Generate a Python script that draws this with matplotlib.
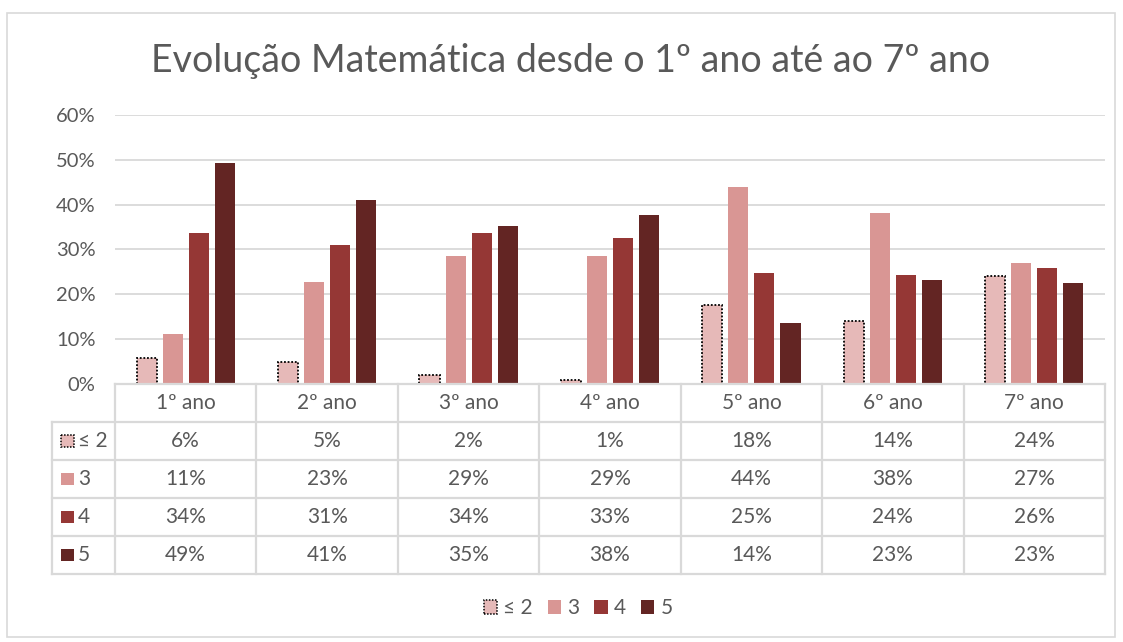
import matplotlib
matplotlib.use('Agg')
import matplotlib.pyplot as plt
from matplotlib.patches import Rectangle, Patch

plt.rcParams['font.family'] = ['Lato', 'DejaVu Sans']

# dados
anos = ['1º ano', '2º ano', '3º ano', '4º ano', '5º ano', '6º ano', '7º ano']
series = ['≤ 2', '3', '4', '5']
v_le2 = [5.8, 4.8, 2.0, 0.9, 17.6, 14.1, 24.2]
v_3 = [11.2, 22.7, 28.6, 28.6, 43.9, 38.1, 26.9]
v_4 = [33.7, 30.9, 33.7, 32.6, 24.8, 24.3, 25.8]
v_5 = [49.2, 41.1, 35.3, 37.6, 13.6, 23.2, 22.6]
valores = [v_le2, v_3, v_4, v_5]

cores = ['#E6B9B8', '#D99694', '#953735', '#632523']
cinza = '#595959'
linha = '#D9D9D9'
fs = 15

W, H = 1123, 642
fig = plt.figure(figsize=(W / 100, H / 100), dpi=100)

def fx(px):
    return px / W

def fy(py):
    return 1 - py / H

# moldura do gráfico
fig.patches.append(Rectangle((fx(7), fy(637)), fx(1115) - fx(7), fy(13) - fy(637),
                             transform=fig.transFigure, fill=False, ec=linha, lw=1.2))

fig.text(fx(571), fy(61), 'Evolução Matemática desde o 1º ano até ao 7º ano',
         ha='center', va='center', fontsize=27, color=cinza)

# área das barras
ax = fig.add_axes([fx(115), fy(384), fx(1105) - fx(115), fy(115) - fy(384)])
largura = 0.142
passo = 0.184
x = range(len(anos))
for i, (s, v) in enumerate(zip(series, valores)):
    off = (i - 1.5) * passo
    xs = [k + off for k in x]
    if i == 0:
        ax.bar(xs, [a / 100 for a in v], width=largura, color=cores[i],
               edgecolor='black', linestyle=(0, (1, 1)), linewidth=1.3, zorder=3)
    else:
        ax.bar(xs, [a / 100 for a in v], width=largura, color=cores[i], zorder=3)

ax.set_xlim(-0.5, 6.5)
ax.set_ylim(0, 0.6)
ax.set_yticks([0, 0.1, 0.2, 0.3, 0.4, 0.5, 0.6])
ax.set_yticklabels(['0%', '10%', '20%', '30%', '40%', '50%', '60%'], fontsize=14.5, color=cinza)
ax.tick_params(axis='y', length=0, pad=14)
ax.set_xticks([])
ax.grid(axis='y', color=linha, lw=1.3, zorder=0)
for sp in ax.spines.values():
    sp.set_visible(False)

# tabela de dados
tab = fig.add_axes([fx(115), fy(574), fx(1105) - fx(115), fy(384) - fy(574)], sharex=ax)
tab.set_ylim(5, 0)
tab.axis('off')
esq = -0.5 - 63 / 141.4
kw = dict(color=linha, lw=1.6, clip_on=False)
tab.plot([-0.5, 6.5], [0, 0], **kw)
for r in range(1, 6):
    tab.plot([esq, 6.5], [r, r], **kw)
for c in range(8):
    tab.plot([c - 0.5, c - 0.5], [0, 5], **kw)
tab.plot([esq, esq], [1, 5], **kw)

for c, a in enumerate(anos):
    tab.text(c, 0.5, a, ha='center', va='center', fontsize=fs, color=cinza)
for r, (s, v) in enumerate(zip(series, valores)):
    y = r + 1.5
    for c, a in enumerate(v):
        tab.text(c, y, f'{a:.0f}%', ha='center', va='center', fontsize=fs, color=cinza)
    kx = esq + 9 / 141.4
    tab.add_patch(Rectangle((kx, y - 0.17), 13 / 141.4, 0.34, facecolor=cores[r],
                            edgecolor='black' if r == 0 else 'none',
                            linestyle=(0, (1, 1)), lw=1.1, clip_on=False))
    tab.text(kx + 17 / 141.4, y, s, ha='left', va='center', fontsize=fs, color=cinza)

# legenda
handles = []
for i, s in enumerate(series):
    if i == 0:
        handles.append(Patch(facecolor=cores[i], edgecolor='black', linestyle=(0, (1, 1)), lw=1.1, label=s))
    else:
        handles.append(Patch(facecolor=cores[i], edgecolor='none', label=s))
fig.legend(handles=handles, loc='center', bbox_to_anchor=(fx(578), fy(608)), ncol=4,
           frameon=False, fontsize=fs, labelcolor=cinza, handlelength=0.65,
           handleheight=0.65, handletextpad=0.3, columnspacing=0.7)

fig.savefig('out.png', dpi=100)
